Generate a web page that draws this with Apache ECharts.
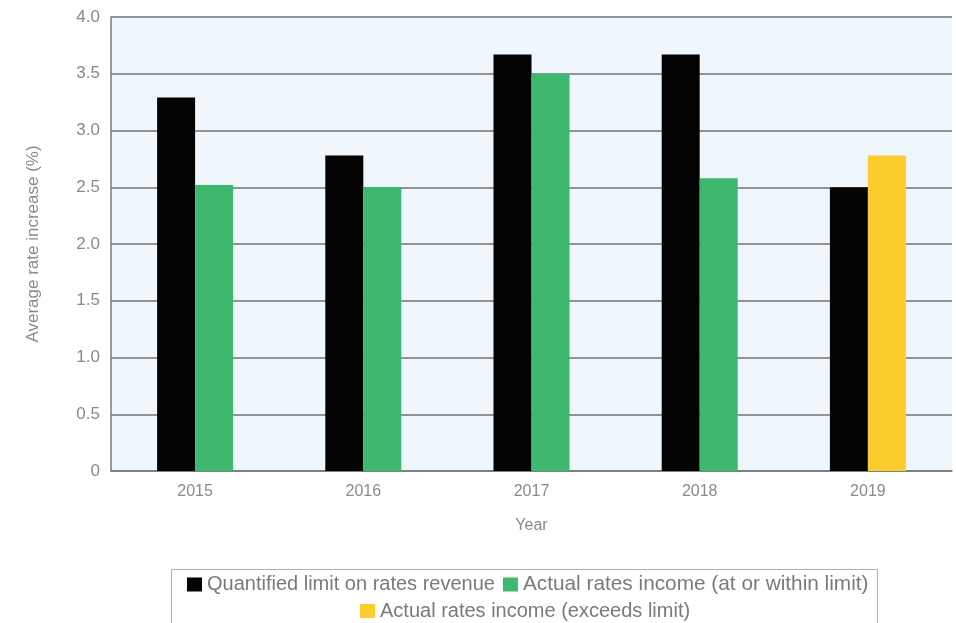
<!DOCTYPE html>
<html>
<head>
<meta charset="utf-8">
<script src="https://cdn.jsdelivr.net/npm/echarts@6/dist/echarts.min.js"></script>
<style>
  html, body { margin: 0; padding: 0; background: #fff; }
  #chart { width: 956px; height: 623px; }
</style>
</head>
<body>
<div id="chart"></div>
<script>
// Rates limit vs actual rates income, by year
const years = ['2015', '2016', '2017', '2018', '2019'];
const limitValues = [3.29, 2.78, 3.67, 3.67, 2.5];
const withinLimit = [2.52, 2.5, 3.5, 2.58, null];
const exceedsLimit = [null, null, null, null, 2.78];
const yTicks = [0, 0.5, 1.0, 1.5, 2.0, 2.5, 3.0, 3.5, 4.0];

const seriesNames = [
  'Quantified limit on rates revenue',
  'Actual rates income (at or within limit)',
  'Actual rates income (exceeds limit)'
];
const colors = ['#030303', '#3fb86f', '#fdcd2f'];

const labelFont = 'Liberation Sans, Arial, sans-serif';

const legendText = { color: '#7a7a7a', fontSize: 20, fontFamily: labelFont };

const chart = echarts.init(document.getElementById('chart'));
chart.setOption({
  animation: false,
  backgroundColor: '#ffffff',
  grid: {
    left: 111, right: 4, top: 17, bottom: 152,
    show: true, backgroundColor: '#eff7fd', borderWidth: 0
  },
  legend: [
    {
      data: [
        { name: seriesNames[0] },
        { name: seriesNames[1], textStyle: { fontSize: 20.8 } }
      ],
      left: 187, top: 574, padding: 0,
      itemWidth: 15, itemHeight: 14, itemGap: 8,
      icon: 'rect',
      textStyle: legendText
    },
    {
      data: [seriesNames[2]],
      left: 360, top: 601, padding: 0,
      itemWidth: 15, itemHeight: 14, itemGap: 5,
      icon: 'rect',
      textStyle: legendText
    }
  ],
  graphic: [{
    type: 'rect',
    shape: { x: 171.5, y: 569.5, width: 706, height: 60 },
    style: { fill: 'none', stroke: '#b0b0b0', lineWidth: 1 },
    z: -1
  }],
  xAxis: {
    type: 'category',
    data: years,
    name: 'Year',
    nameLocation: 'middle',
    nameGap: 47,
    nameTextStyle: { color: '#8a8a8a', fontSize: 16, fontFamily: labelFont },
    axisLine: { lineStyle: { color: '#7a7a7a', width: 1.5 } },
    axisTick: { show: false },
    axisLabel: { color: '#8a8a8a', fontSize: 16, fontFamily: labelFont, margin: 13 }
  },
  yAxis: {
    type: 'value',
    min: yTicks[0],
    max: yTicks[yTicks.length - 1],
    interval: 0.5,
    name: 'Average rate increase (%)',
    nameLocation: 'middle',
    nameGap: 69,
    nameTextStyle: { color: '#8a8a8a', fontSize: 17, fontFamily: labelFont },
    axisLine: { show: true, lineStyle: { color: '#7a7a7a', width: 1.5 } },
    axisTick: { show: false },
    axisLabel: {
      color: '#8a8a8a', fontSize: 17, fontFamily: labelFont, margin: 11,
      formatter: v => (v === 0 ? '0' : v.toFixed(1))
    },
    splitLine: { show: true, lineStyle: { color: '#727272', width: 1.5 } }
  },
  series: [
    {
      name: seriesNames[0], type: 'bar', data: limitValues,
      barWidth: 38, barGap: '0%',
      itemStyle: { color: colors[0] }
    },
    {
      name: seriesNames[1], type: 'bar', data: withinLimit, stack: 'actual',
      barWidth: 38, barGap: '0%',
      itemStyle: { color: colors[1] }
    },
    {
      name: seriesNames[2], type: 'bar', data: exceedsLimit, stack: 'actual',
      barWidth: 38, barGap: '0%',
      itemStyle: { color: colors[2] }
    }
  ]
});
</script>
</body>
</html>
